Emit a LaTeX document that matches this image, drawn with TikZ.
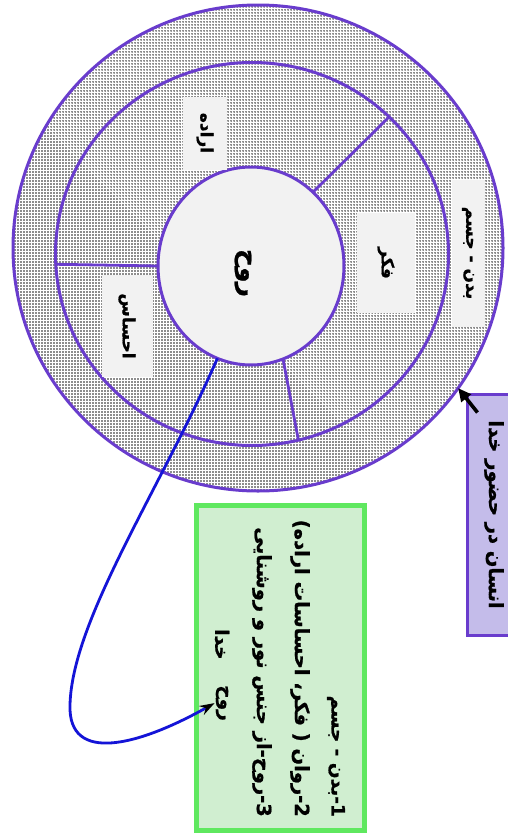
\documentclass[tikz,border=0pt]{standalone}
\usepackage{fontspec}
\usetikzlibrary{shapes.geometric,patterns.meta,arrows.meta}
\TeXXeTstate=1
\newfontfamily\arabicfont[Script=Arabic, BoldFeatures={FakeBold=1}]{DejaVu Sans}
\definecolor{ringline}{RGB}{105,60,205}
\definecolor{labelbg}{RGB}{242,242,242}
\definecolor{boxgreen}{RGB}{95,232,95}
\definecolor{greenfill}{RGB}{208,238,208}
\definecolor{lavender}{RGB}{196,188,234}
\definecolor{linkblue}{RGB}{20,20,215}
\tikzset{
  ring/.style={ellipse, draw=ringline, line width=3pt, inner sep=0pt, outer sep=0pt},
  dotted ring/.style={ring, preaction={fill=white},
    pattern={Dots[distance=3pt,radius=0.76pt]}, pattern color=black!90},
  divider/.style={draw=ringline, line width=2.8pt},
  fa/.style={font=\arabicfont\bfseries\fontsize{#1}{#1}\selectfont,
    text=black, rotate=-90, inner sep=1pt},
  fa/.default=17,
  tag/.style={fa=17, fill=labelbg, inner sep=0pt},
}
\begin{document}
\begin{tikzpicture}[x=1pt,y=-1pt]
\useasboundingbox (0,0) rectangle (508,835);
\clip (0,0) rectangle (508,835);
\fill[white] (0,0) rectangle (508,835);

% the three rings
\node[dotted ring, minimum width=490pt, minimum height=486pt] (outer) at (258,248) {};
\node[ring, minimum width=393pt, minimum height=383pt] (middle) at (252,254) {};
\node[ring, fill=labelbg, minimum width=186pt, minimum height=198pt] (inner) at (251,266) {};

% dividers of the middle ring
\draw[divider] (inner.50) -- (middle.45);
\draw[divider] (inner.180) -- (middle.183);
\draw[divider] (inner.-71) -- (middle.-76);

% ring labels
\node[tag, minimum width=73pt, minimum height=44pt] (will) at (205,133) {\beginR اراده\endR};
\node[tag, minimum width=100pt, minimum height=58pt] (thought) at (386,263) {\beginR فکر\endR};
\node[tag, minimum width=102pt, minimum height=51pt] (feeling) at (127,326) {\beginR احساس\endR};
\node[tag, minimum width=147pt, minimum height=33pt] (body) at (468,253) {\beginR بدن - جسم\endR};
\node[fa=25] (soul) at (243,273) {\beginR روح\endR};

% legend box
\node[draw=boxgreen, line width=5pt, fill=greenfill, rotate=-90,
      minimum width=325pt, minimum height=168pt, inner sep=0pt] (legend) at (280.5,668) {};
\node[fa=18.5, anchor=east] (line1) at (336,818) {\beginR 1-بدن - جسم\endR};
\node[fa=19.5, anchor=east] (line2) at (300,818) {\beginR 2-روان ( فکر، احساسات اراده)\endR};
\node[fa=19.5, anchor=east] (line3) at (262,818) {\beginR 3-روح-از جنس نور و روشنایی\endR};
\node[fa=18.5, anchor=east] (spirit) at (222,722) {\beginR روح\endR};
\node[fa=18.5, anchor=west] (god) at (222,628) {\beginR خدا\endR};

% title box
\node[draw=ringline, line width=3pt, fill=lavender, rotate=-90,
      minimum width=241pt, minimum height=54pt, inner sep=0pt,
      font=\arabicfont\bfseries\fontsize{19.5}{19.5}\selectfont] (human) at (494,514.5)
      {\beginR انسان در حضور خدا\endR};

% connectors
\draw[line width=3.6pt, -{Triangle[length=13pt,width=12pt]}]
  ([shift={(12,20)}]human.south west) -- (outer.-35);
\draw[linkblue, line width=2.8pt, -{Stealth[black,length=15pt,width=10pt]}]
  (inner.250) .. controls (160,490) and (72,620) .. (70,705)
  .. controls (68,765) and (140,745) .. (spirit.south);
\end{tikzpicture}
\end{document}
